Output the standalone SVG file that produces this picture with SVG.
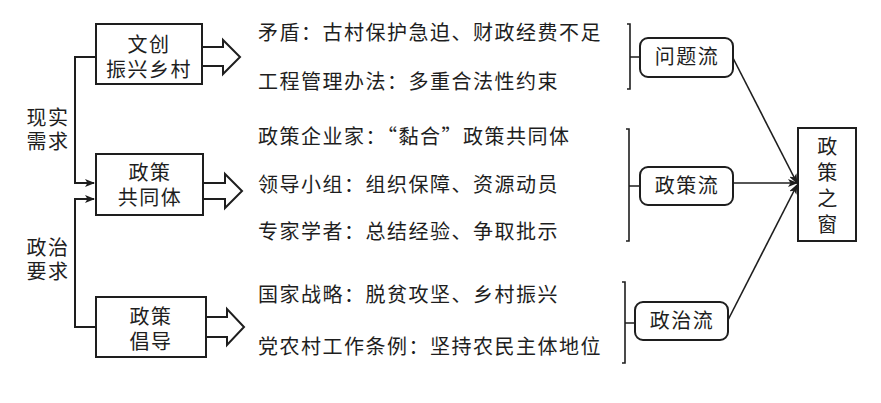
<svg xmlns="http://www.w3.org/2000/svg" width="881" height="403" viewBox="0 0 881 403">
<style>
text{font-family:"Noto Sans CJK SC","Noto Sans",sans-serif;font-size:20px;fill:#1e1e1e;letter-spacing:1.5px}
.c{text-anchor:middle}
.box{fill:#fff;stroke:#1e1e1e;stroke-width:2}
.ln{fill:none;stroke:#1e1e1e;stroke-width:2}
.thin{fill:none;stroke:#1e1e1e;stroke-width:1.6}
</style>
<defs>
<marker id="ah" markerWidth="10" markerHeight="8" refX="9" refY="4" orient="auto" markerUnits="userSpaceOnUse">
<path d="M0,0 L10,4 L0,8 L2.5,4 Z" fill="#1e1e1e"/>
</marker>
</defs>
<rect width="881" height="403" fill="#fff"/>

<g id="connectors">
<path class="ln" d="M96,57 H75 V183 H94" marker-end="url(#ah)"/>
<path class="ln" d="M96,327 H75 V199 H94" marker-end="url(#ah)"/>
<path class="ln" d="M202,47 H223 V40 L240,57 L223,74 V66 H202"/>
<path class="ln" d="M203,183 H225 V174 L242,191 L225,208 V199 H203"/>
<path class="ln" d="M206,317 H227 V309 L244,327 L227,345 V337 H206"/>
<path class="thin" d="M627,24 H630 V89 H627 M630,57 H640"/>
<path class="thin" d="M626,129 H629 V241 H626 M629,186 H640"/>
<path class="thin" d="M622,282 H625 V363 H622 M625,323 H635"/>
<path class="thin" d="M733,58 L797,183" marker-end="url(#ah)"/>
<path class="thin" d="M733,183 L797,183" marker-end="url(#ah)"/>
<path class="thin" d="M728,320 L797,185" marker-end="url(#ah)"/>
</g>

<g id="label-xianshi">
<text class="c" x="48" y="125">现实<tspan x="48" dy="24">需求</tspan></text>
</g>
<g id="label-zhengzhi">
<text class="c" x="48" y="255">政治<tspan x="48" dy="24">要求</tspan></text>
</g>

<g id="node-wenchuang">
<rect class="box" x="96" y="24" width="106" height="60"/>
<text class="c" x="149" y="52">文创<tspan x="149" dy="25">振兴乡村</tspan></text>
</g>
<g id="node-gongtongti">
<rect class="box" x="96" y="154" width="107" height="61"/>
<text class="c" x="150" y="180">政策<tspan x="150" dy="25">共同体</tspan></text>
</g>
<g id="node-changdao">
<rect class="box" x="96" y="297" width="110" height="60"/>
<text class="c" x="151" y="324">政策<tspan x="151" dy="25">倡导</tspan></text>
</g>

<g id="texts">
<text x="258" y="40">矛盾：古村保护急迫、财政经费不足</text>
<text x="258" y="89">工程管理办法：多重合法性约束</text>
<text x="258" y="144">政策企业家：“黏合”政策共同体</text>
<text x="258" y="192">领导小组：组织保障、资源动员</text>
<text x="258" y="239">专家学者：总结经验、争取批示</text>
<text x="258" y="302">国家战略：脱贫攻坚、乡村振兴</text>
<text x="258" y="354">党农村工作条例：坚持农民主体地位</text>
</g>

<g id="node-wentiliu">
<rect class="box" x="640" y="38" width="93" height="39" rx="8"/>
<text class="c" x="687" y="64">问题流</text>
</g>
<g id="node-zhengceliu">
<rect class="box" x="640" y="167" width="93" height="38" rx="8"/>
<text class="c" x="687" y="193">政策流</text>
</g>
<g id="node-zhengzhiliu">
<rect class="box" x="635" y="302" width="93" height="38" rx="8"/>
<text class="c" x="682" y="328">政治流</text>
</g>
<g id="node-window">
<rect class="box" x="798" y="128" width="58" height="113"/>
<text class="c" x="828" y="154">政<tspan x="828" dy="26">策</tspan><tspan x="828" dy="26">之</tspan><tspan x="828" dy="26">窗</tspan></text>
</g>
</svg>
